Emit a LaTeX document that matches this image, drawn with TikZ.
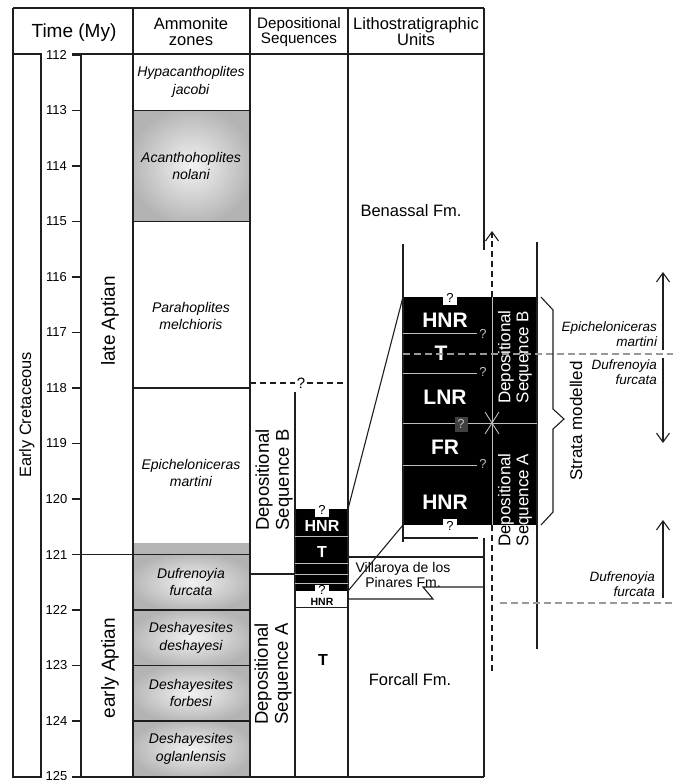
\documentclass[tikz,border=0pt]{standalone}
\usepackage{fontspec}
\setmainfont{Liberation Sans}
\usetikzlibrary{arrows.meta}
\definecolor{zcA}{HTML}{F2F2F2}
\definecolor{zcB}{HTML}{D4D4D4}
\definecolor{zcC}{HTML}{B3B3B3}
\definecolor{zgray}{HTML}{B4B4B4}
\definecolor{lsep}{HTML}{BDBDBD}
\definecolor{gdashc}{HTML}{999999}
\definecolor{linec}{HTML}{1E1E1E}
\pgfdeclareradialshading{zoneshade}{\pgfpoint{0bp}{0bp}}{color(0bp)=(zcA); color(13bp)=(zcB); color(27bp)=(zcC); color(50bp)=(zcC)}
\tikzset{
  fr/.style={line width=1.1pt, draw=linec},
  sepl/.style={line width=0.9pt, draw=lsep},
  txt/.style={inner sep=0pt, outer sep=0pt, align=center},
  hdr/.style={txt, font=\fontsize{16.5}{16}\selectfont},
  tick/.style={txt, font=\fontsize{13}{13}\selectfont},
  zname/.style={txt, font=\fontsize{14}{17.5}\selectfont\itshape},
  era/.style={txt, rotate=90, font=\fontsize{19}{19}\selectfont},
  dslab/.style={txt, rotate=90, font=\fontsize{18.5}{20}\selectfont},
  dsin/.style={txt, rotate=90, font=\fontsize{17}{18}\selectfont},
  litw/.style={txt, text=white, font=\fontsize{16}{16}\selectfont\bfseries},
  bigw/.style={txt, text=white, font=\fontsize{21}{21}\selectfont\bfseries},
  qm/.style={txt, font=\fontsize{13}{13}\selectfont},
  fm/.style={txt, font=\fontsize{16.5}{16}\selectfont},
  rlab/.style={txt, align=right, anchor=east, font=\fontsize{13.5}{14.5}\selectfont\itshape},
  gdash/.style={line width=1.5pt, draw=gdashc, dash pattern=on 7pt off 4pt},
  bdash/.style={line width=1.1pt, draw=linec, dash pattern=on 6pt off 4pt},
  barb/.style={line width=1.1pt, draw=linec, -{Straight Barb[length=9pt,width=13pt,line width=1.1pt]}}
}
\begin{document}
\begin{tikzpicture}[x=1pt,y=-1pt]
\useasboundingbox (0,0) rectangle (678,780);
\fill[white] (0,0) rectangle (678,780);

% ---- ammonite zone fills
\shade[shading=zoneshade] (133,110.5) rectangle (250,221.5);
\fill[zgray] (133,543) rectangle (250,554.5);
\shade[shading=zoneshade] (133,554.5) rectangle (250,610);
\shade[shading=zoneshade] (133,610) rectangle (250,665.5);
\shade[shading=zoneshade] (133,665.5) rectangle (250,721);
\shade[shading=zoneshade] (133,721) rectangle (250,777);

% ---- black lithology boxes
\fill[black] (295,509) rectangle (348,591);
\fill[black] (403,297) rectangle (537,525);

% ---- frame
\draw[fr] (13,8) -- (484,8);
\draw[fr] (13,8) -- (13,777) -- (41,777) -- (41,54) -- (13,54);
\draw[fr] (72,54) -- (484,54);
\draw[fr] (72,777) -- (484,777);
\draw[fr] (81,54) -- (81,777);
\draw[fr] (133,8) -- (133,777);
\draw[fr] (250,8) -- (250,777);
\draw[fr] (348,8) -- (348,777);
\draw[fr] (484,8) -- (484,250);
\draw[fr] (484,538) -- (484,777);

% ---- time ticks
\foreach \i in {0,...,13}{
  \pgfmathsetmacro{\yy}{55+\i*55.5}
  \pgfmathtruncatemacro{\tlab}{112+\i}
  \draw[fr] (72,\yy) -- (81,\yy);
  \node[tick] (t\i) at (56.5,\yy) {\tlab};
}

% ---- zone boundaries
\draw[fr] (133,110.5) -- (250,110.5);
\draw[fr] (133,221.5) -- (250,221.5);
\draw[fr] (133,388) -- (250,388);
\draw[fr] (72,554.5) -- (250,554.5);
\draw[fr] (133,610) -- (250,610);
\draw[fr] (133,665.5) -- (250,665.5);
\draw[fr] (133,721) -- (250,721);

% ---- headers
\node[txt, font=\fontsize{19}{19}\selectfont] (hTime) at (74,33) {Time (My)};
\node[hdr] (hAmm) at (191,32) {Ammonite\\zones};
\node[txt, font=\fontsize{15.2}{15.5}\selectfont] (hDep) at (299,32) {Depositional\\Sequences};
\node[hdr] (hLit) at (416,32) {Lithostratigraphic\\Units};

% ---- era / stage labels
\node[txt, rotate=90, font=\fontsize{16.4}{16}\selectfont] (era) at (27,415) {Early Cretaceous};
\node[era] (late) at (110,321) {late Aptian};
\node[era] (early) at (110,668) {early Aptian};

% ---- ammonite zone names
\node[zname] (z1) at (191,82) {Hypacanthoplites\\jacobi};
\node[zname] (z2) at (191,166) {Acanthohoplites\\nolani};
\node[zname] (z3) at (191,316) {Parahoplites\\melchioris};
\node[zname] (z4) at (191,473) {Epicheloniceras\\martini};
\node[zname] (z5) at (191,582) {Dufrenoyia\\furcata};
\node[zname] (z6) at (191,638) {Deshayesites\\deshayesi};
\node[zname] (z7) at (191,693) {Deshayesites\\forbesi};
\node[zname] (z8) at (191,749) {Deshayesites\\oglanlensis};

% ---- depositional sequences column
\draw[fr] (250,574) -- (295,574);
\draw[bdash] (250,383) -- (295,383);
\draw[bdash] (307,383) -- (348,383);
\node[txt, font=\fontsize{15}{15}\selectfont] (qds) at (301,383) {?};
\draw[fr] (295,392) -- (295,777);
\node[dslab] (dsB) at (274,480) {Depositional\\Sequence B};
\node[dslab] (dsA) at (273,674) {Depositional\\Sequence A};

% middle lithology column
\foreach \yy in {536,563,574,583}{ \draw[sepl] (295,\yy) -- (348,\yy); }
\fill[white] (315,509) rectangle (329,517);
\fill[white] (315,585) rectangle (329,591);
\node[qm] (mq1) at (322,510) {?};
\node[qm] (mq2) at (322,590) {?};
\node[litw] (mHNR) at (322,526) {HNR};
\node[litw] (mT) at (322,552) {T};
\node[txt, font=\fontsize{10.5}{10.5}\selectfont\bfseries] (mHNR2) at (322,601.5) {HNR};
\draw[fr] (295,607.5) -- (348,607.5);
\node[txt, font=\fontsize{16}{16}\selectfont\bfseries] (mT2) at (323,660) {T};

% ---- lithostratigraphic units
\node[fm] (benassal) at (411,211) {Benassal Fm.};
\node[txt, font=\fontsize{14}{14.5}\selectfont] (villa) at (403,575) {Villaroya de los\\Pinares Fm.};
\node[fm] (forcall) at (410,680) {Forcall Fm.};
\draw[fr] (348,557) -- (484,557);
\draw[fr] (348,599) -- (433,599) -- (423,587) -- (484,587);

% ---- connectors from middle column to enlarged column
\coordinate (mTR) at (348,509);
\coordinate (mBR) at (348,591);
\coordinate (eTL) at (403,297);
\coordinate (eBL) at (403,525);
\draw[fr] (mTR) -- (eTL);
\draw[fr] (mBR) -- (eBL);

% ---- enlarged column
\draw[fr] (403,244) -- (403,542);
\draw[fr] (537,242) -- (537,649);
\draw[fr] (403,538) -- (478,538);
\draw[bdash] (492,297) -- (492,236);
\draw[line width=1.1pt, draw=linec, {Straight Barb[length=9pt,width=13pt,line width=1.1pt]}-] (492,231) -- (492,238);
\draw[bdash] (492,525) -- (492,673);
\draw[line width=0.9pt, draw=lsep] (492,297) -- (492,525);
\foreach \yy in {333,373,465}{ \draw[sepl] (403,\yy) -- (477,\yy); }
\draw[sepl] (403,423) -- (537,423);
\draw[line width=0.9pt, draw=lsep] (485,412) -- (499,434);
\draw[line width=0.9pt, draw=lsep] (499,412) -- (485,434);
\node[qm, text=lsep] (eq1) at (483,334) {?};
\node[qm, text=lsep] (eq2) at (483,372) {?};
\node[qm, text=lsep] (eq3) at (483,464) {?};
\node[qm, text=lsep, fill=black!75, minimum width=13pt, minimum height=15pt] (eq4) at (461,424) {?};
\fill[white] (443,297) rectangle (457,305);
\fill[white] (443,519) rectangle (457,525);
\node[qm] (eq5) at (450,298) {?};
\node[qm] (eq6) at (450,526) {?};
\node[bigw] (eHNR1) at (445,320) {HNR};
\node[bigw] (eT) at (441,353) {T};
\node[bigw] (eLNR) at (445,397) {LNR};
\node[bigw] (eFR) at (445,447) {FR};
\node[bigw] (eHNR2) at (445,502) {HNR};
\node[dsin, text=white] (edsB) at (515,357) {Depositional\\Sequence B};
\node[dsin] (edsAk) at (515,500) {Depositional\\Sequence A};
\begin{scope}
  \clip (403,297) rectangle (537,525);
  \node[dsin, text=white] (edsAw) at (515,500) {Depositional\\Sequence A};
\end{scope}

% ---- biozone markers on the right
\draw[gdash] (403,354) -- (673,354);
\draw[gdash] (500,603) -- (673,603);
\coordinate (a1s) at (663,350); \coordinate (a1e) at (663,272);
\coordinate (a2s) at (663,358); \coordinate (a2e) at (663,443);
\coordinate (a3s) at (663,598); \coordinate (a3e) at (663,520);
\draw[barb] (a1s) -- (a1e);
\draw[barb] (a2s) -- (a2e);
\draw[barb] (a3s) -- (a3e);
\node[rlab] (rl1) at (657,334) {Epicheloniceras\\martini};
\node[rlab] (rl2) at (657,372) {Dufrenoyia\\furcata};
\node[rlab] (rl3) at (655,584) {Dufrenoyia\\furcata};

% ---- brace
\draw[line width=1.1pt, draw=linec, line join=miter] (541,297) -- (553,310) -- (553,409) -- (564,419) -- (553,429) -- (553,512) -- (541,525);
\node[txt, rotate=90, font=\fontsize{17}{17}\selectfont] (strata) at (576,421) {Strata modelled};
\end{tikzpicture}
\end{document}
